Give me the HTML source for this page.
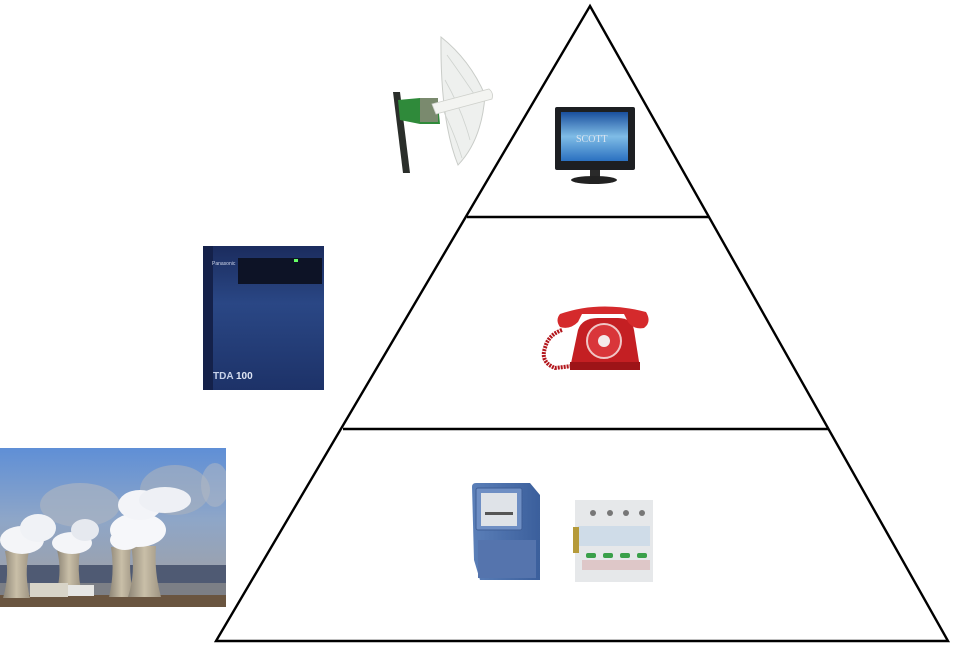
<!DOCTYPE html>
<html><head><meta charset="utf-8"><style>
html,body{margin:0;padding:0;background:#fff;}
svg{display:block;}
</style></head><body>
<svg width="955" height="646" viewBox="0 0 955 646" xmlns="http://www.w3.org/2000/svg">
<defs>
<linearGradient id="sky" x1="0" y1="0" x2="0" y2="1">
<stop offset="0" stop-color="#5f8fd6"/><stop offset="0.45" stop-color="#8ea6c8"/><stop offset="0.75" stop-color="#9aa2b0"/><stop offset="1" stop-color="#7d8694"/>
</linearGradient>
<linearGradient id="tower" x1="0" y1="0" x2="1" y2="0">
<stop offset="0" stop-color="#8d8576"/><stop offset="0.5" stop-color="#c9bfa8"/><stop offset="1" stop-color="#9e9482"/>
</linearGradient>
<linearGradient id="pbx" x1="0" y1="0" x2="0" y2="1">
<stop offset="0" stop-color="#1b2c5e"/><stop offset="0.4" stop-color="#2a4785"/><stop offset="1" stop-color="#1d3268"/>
</linearGradient>
<linearGradient id="scr" x1="0" y1="0" x2="0" y2="1">
<stop offset="0" stop-color="#1a4f9e"/><stop offset="0.5" stop-color="#7fbce6"/><stop offset="1" stop-color="#2a70c0"/>
</linearGradient>
<linearGradient id="meter" x1="0" y1="0" x2="1" y2="0">
<stop offset="0" stop-color="#5b7fb8"/><stop offset="1" stop-color="#3b5f9c"/>
</linearGradient>
<clipPath id="nc"><rect x="0" y="448" width="226" height="159"/></clipPath>
</defs>

<!-- Nuclear plant photo -->
<g clip-path="url(#nc)">
<rect x="0" y="448" width="226" height="159" fill="url(#sky)"/>
<rect x="0" y="565" width="226" height="18" fill="#4f5a73"/>
<rect x="0" y="583" width="226" height="12" fill="#7c7f86"/>
<rect x="0" y="595" width="226" height="12" fill="#6a5540"/>
<ellipse cx="80" cy="505" rx="40" ry="22" fill="#a9b3c2" opacity="0.7"/>
<ellipse cx="175" cy="490" rx="35" ry="25" fill="#aab2be" opacity="0.6"/>
<ellipse cx="215" cy="485" rx="14" ry="22" fill="#b3bac4" opacity="0.5"/>
<path d="M5 551 Q10 575 3 598 L30 598 Q24 575 29 551 Z" fill="url(#tower)"/>
<path d="M57 550 Q62 570 57 590 L81 590 Q77 570 80 550 Z" fill="url(#tower)"/>
<path d="M111 547 Q115 572 109 597 L134 597 Q128 572 131 547 Z" fill="url(#tower)"/>
<path d="M131 546 Q136 572 128 597 L161 597 Q154 572 156 546 Z" fill="url(#tower)"/>
<rect x="30" y="583" width="38" height="14" fill="#d8d4c8"/>
<rect x="68" y="585" width="26" height="11" fill="#e6e6e4"/>
<ellipse cx="22" cy="540" rx="22" ry="14" fill="#f4f5f8"/>
<ellipse cx="38" cy="528" rx="18" ry="14" fill="#f0f2f6"/>
<ellipse cx="72" cy="543" rx="20" ry="11" fill="#f4f5f8"/>
<ellipse cx="85" cy="530" rx="14" ry="11" fill="#e6e9ef"/>
<ellipse cx="138" cy="530" rx="28" ry="17" fill="#f6f7fa"/>
<ellipse cx="140" cy="505" rx="22" ry="15" fill="#f3f4f8"/>
<ellipse cx="165" cy="500" rx="26" ry="13" fill="#eef0f5"/>
<ellipse cx="125" cy="540" rx="15" ry="10" fill="#f6f7fa"/>
</g>

<!-- PBX -->
<g>
<rect x="203" y="246" width="121" height="144" fill="url(#pbx)"/>
<rect x="203" y="246" width="10" height="144" fill="#14214a"/>
<rect x="238" y="258" width="84" height="26" fill="#0d1326"/>
<rect x="294" y="259" width="4" height="3" fill="#6f6"/>
<text x="212" y="265" font-family="Liberation Sans, sans-serif" font-size="5" fill="#cfd6ea">Panasonic</text>
<text x="213" y="379" font-family="Liberation Sans, sans-serif" font-size="10" font-weight="bold" fill="#c8d2ea">TDA</text>
<text x="236" y="379" font-family="Liberation Sans, sans-serif" font-size="10" font-weight="bold" fill="#e0e6f4">100</text>
</g>

<!-- Antenna -->
<g>
<path d="M393 92 L400 92 L410 173 L403 173 Z" fill="#2a2e2a"/>
<path d="M441 37 Q470 60 485 95 Q482 140 458 165 Q440 120 441 37 Z" fill="#eef0ee" stroke="#c9ccc8" stroke-width="1"/>
<path d="M447 55 Q465 80 478 100 M445 80 Q462 110 470 140 M443 110 Q455 135 462 158" stroke="#cfd3cf" stroke-width="0.8" fill="none"/>
<path d="M398 100 L420 98 L438 104 L440 124 L420 124 L400 120 Z" fill="#2f8a3a"/>
<rect x="420" y="98" width="18" height="24" fill="#7a8a6e"/>
<path d="M432 104 L489 89 Q494 93 492 99 L436 114 Z" fill="#f3f4f1" stroke="#cfd1cc" stroke-width="0.8"/>
</g>

<!-- Pyramid -->
<g stroke="#000" stroke-width="2.4" fill="none" stroke-linejoin="miter">
<path d="M590 6 L948 641 L216 641 Z"/>
<line x1="467" y1="217" x2="709" y2="217"/>
<line x1="343" y1="429" x2="829" y2="429"/>
</g>

<!-- TV -->
<g>
<rect x="555" y="107" width="80" height="63" rx="2" fill="#1d1f22"/>
<rect x="561" y="112" width="67" height="49" fill="url(#scr)"/>
<text x="576" y="142" font-family="Liberation Serif, serif" font-size="10" fill="#dbe4f0">SCOTT</text>
<rect x="590" y="170" width="10" height="7" fill="#2a2a2a"/>
<ellipse cx="594" cy="180" rx="23" ry="4" fill="#222"/>
</g>

<!-- Phone -->
<g>
<path d="M562 330 Q548 335 545 348 Q540 362 555 368 L572 366" stroke="#b3171d" stroke-width="4" fill="none" stroke-dasharray="2 1"/>
<path d="M578 330 Q582 318 598 318 L618 318 Q632 318 634 330 L640 368 L570 368 Z" fill="#c41f23"/>
<rect x="570" y="362" width="70" height="8" fill="#9d1418"/>
<path d="M560 314 Q600 300 646 312 Q652 322 644 328 Q634 330 628 322 L624 314 L582 314 L578 322 Q570 330 560 327 Q555 320 560 314 Z" fill="#d52a2c"/>
<circle cx="604" cy="341" r="17" fill="#d9363a" stroke="#f0c6c6" stroke-width="2"/>
<circle cx="604" cy="341" r="6" fill="#f4eaea"/>
</g>

<!-- Electricity meter -->
<g>
<path d="M472 487 Q472 483 476 483 L530 483 L540 495 L540 580 L480 580 L474 560 Z" fill="url(#meter)"/>
<rect x="476" y="488" width="46" height="42" rx="2" fill="#6f8fc4" stroke="#3e5e96"/>
<rect x="481" y="493" width="36" height="33" fill="#dfe3e8"/>
<rect x="485" y="512" width="28" height="3" fill="#555"/>
<rect x="478" y="540" width="58" height="38" fill="#5574ad"/>
</g>

<!-- Surge protector -->
<g>
<rect x="575" y="500" width="78" height="82" fill="#e6e8ea"/>
<rect x="578" y="526" width="72" height="20" fill="#cfdce8"/>
<rect x="573" y="527" width="6" height="26" fill="#b59a3a"/>
<rect x="586" y="553" width="10" height="5" rx="2" fill="#3aa04a"/>
<rect x="603" y="553" width="10" height="5" rx="2" fill="#3aa04a"/>
<rect x="620" y="553" width="10" height="5" rx="2" fill="#3aa04a"/>
<rect x="637" y="553" width="10" height="5" rx="2" fill="#3aa04a"/>
<rect x="582" y="560" width="68" height="10" fill="#d9b0b0" opacity="0.6"/>
<circle cx="593" cy="513" r="3" fill="#777"/>
<circle cx="610" cy="513" r="3" fill="#777"/>
<circle cx="626" cy="513" r="3" fill="#777"/>
<circle cx="642" cy="513" r="3" fill="#777"/>
</g>
</svg>
</body></html>
